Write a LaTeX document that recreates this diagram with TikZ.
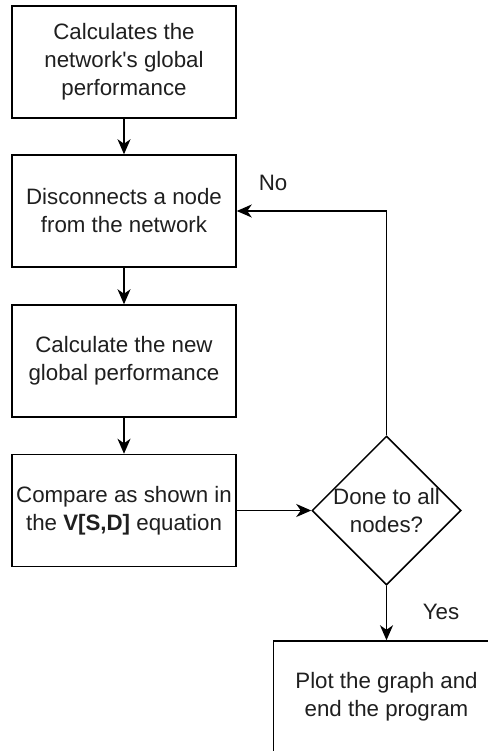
\documentclass[tikz,border=0pt]{standalone}
\usepackage{fontspec}
\setmainfont{Liberation Sans}
\usetikzlibrary{shapes.geometric,arrows.meta}
\newcommand{\straightquote}{\XeTeXglyph\XeTeXcharglyph"27\relax}
\begin{document}
\begin{tikzpicture}[x=1bp,y=-1bp,
  every node/.style={text=black!88},
  txtfont/.style={font=\fontsize{22.3bp}{28bp}\selectfont},
  box/.style={draw=black, line width=1.5bp, minimum width=224bp, minimum height=112bp, align=center, inner sep=0pt, txtfont},
  decision/.style={draw=black, line width=1.5bp, diamond, aspect=1, minimum width=149bp, minimum height=149bp, inner sep=0pt},
  lbl/.style={align=center, inner sep=0pt, txtfont},
  arr/.style={draw=black, line width=1.5bp, -{Stealth[length=15bp,width=13bp,inset=4.5bp]}}
]
\useasboundingbox (0,0) rectangle (488,751);
\clip (0,0) rectangle (488,751);
\fill[white] (0,0) rectangle (488,751);

\node[box] (b1) at (124,62) {Calculates the\\network\straightquote s global\\performance};
\node[box] (b2) at (124,211) {Disconnects a node\\from the network};
\node[box] (b3) at (124,361) {Calculate the new\\global performance};
\node[box] (b4) at (124,510.5) {Compare as shown in\\the \textbf{V[S,D]} equation};
\node[decision] (d) at (386.5,510.5) {};
\node[lbl] (dt) at (d.center) {Done to all\\nodes?};
\node[box, minimum width=226bp] (b5) at (386.5,697) {Plot the graph and\\end the program};

\draw[arr] (b1) -- (b2);
\draw[arr] (b2) -- (b3);
\draw[arr] (b3) -- (b4);
\draw[arr] (b4) -- (d);
\draw[arr] (d.north) |- (b2.east);
\draw[arr] (d.south) -- (b5.north);

\node[lbl] (no) at (273,183) {No};
\node[lbl] (yes) at (441,612) {Yes};
\end{tikzpicture}
\end{document}
